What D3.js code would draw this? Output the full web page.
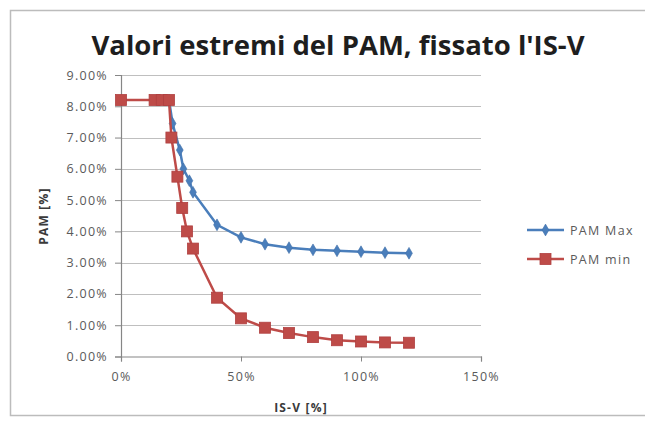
<!DOCTYPE html>
<html><head><meta charset="utf-8">
<script src="https://cdn.jsdelivr.net/npm/d3@7"></script>
<style>body{margin:0;background:#fff;}svg{display:block;}</style>
</head><body>
<svg id="c" width="645" height="423"></svg>
<script>
const title = "Valori estremi del PAM, fissato l'IS-V";
const xLabel = "IS-V [%]";
const yLabel = "PAM [%]";
const xTicks = [0, 0.5, 1.0, 1.5];
const yTicks = [0, 0.01, 0.02, 0.03, 0.04, 0.05, 0.06, 0.07, 0.08, 0.09];
const maxX = [0.20, 0.215, 0.245, 0.26, 0.285, 0.30, 0.40, 0.50, 0.60, 0.70, 0.80, 0.90, 1.00, 1.10, 1.20];
const maxY = [0.082, 0.0745, 0.066, 0.060, 0.0562, 0.0525, 0.0421, 0.0381, 0.0359, 0.0348, 0.0341, 0.0338, 0.0335, 0.0332, 0.0330];
const minX = [0, 0.14, 0.17, 0.20, 0.21, 0.235, 0.255, 0.275, 0.30, 0.40, 0.50, 0.60, 0.70, 0.80, 0.90, 1.00, 1.10, 1.20];
const minY = [0.082, 0.082, 0.082, 0.082, 0.070, 0.0575, 0.0475, 0.040, 0.0345, 0.0188, 0.0122, 0.0092, 0.0075, 0.0062, 0.0052, 0.0048, 0.0045, 0.0044];
const seriesNames = ["PAM Max", "PAM min"];
const colors = ["#4a7ebb", "#be4b48"];

const FONT = "Open Sans, sans-serif";
const svg = d3.select("#c");
svg.append("rect").attr("x", 10.5).attr("y", 10.5).attr("width", 640).attr("height", 405)
  .attr("fill", "#fff").attr("stroke", "#bcbcbc").attr("stroke-width", 1.5);

const x = d3.scaleLinear().domain([0, 1.5]).range([121, 481]);
const y = d3.scaleLinear().domain([0, 0.09]).range([356.5, 75]);

// gridlines
svg.append("g").selectAll("line").data(yTicks.slice(1)).join("line")
  .attr("x1", x(0)).attr("x2", x(1.5)).attr("y1", d => Math.round(y(d)) + 0.5).attr("y2", d => Math.round(y(d)) + 0.5)
  .attr("stroke", "#bfbfbf").attr("stroke-width", 1.2);

const yAxis = svg.append("g").attr("transform", `translate(${x(0)},0)`)
  .call(d3.axisLeft(y).tickValues(yTicks).tickFormat(d3.format(".2%")).tickSize(6).tickPadding(7));
const xAxis = svg.append("g").attr("transform", `translate(0,${y(0)})`)
  .call(d3.axisBottom(x).tickValues(xTicks).tickFormat(d3.format(".0%")).tickSize(5).tickPadding(11));
[yAxis, xAxis].forEach(a => {
  a.select(".domain").attr("stroke", "#868686").attr("stroke-width", 1.2);
  a.selectAll(".tick line").attr("stroke", "#868686");
  a.selectAll("text").attr("fill", "#5a5a5a").style("font-family", FONT).style("font-size", "12.5px")
    .style("letter-spacing", "1.3px");
});

svg.append("text").attr("x", 338).attr("y", 55).attr("text-anchor", "middle")
  .style("font-family", FONT).style("font-weight", "bold").style("font-size", "27.5px")
  .attr("fill", "#1e1e1e").text(title);
svg.append("text").attr("x", 301).attr("y", 412).attr("text-anchor", "middle")
  .style("font-family", FONT).style("font-weight", "bold").style("font-size", "12px").style("letter-spacing", "1.2px")
  .attr("fill", "#3a3a3a").text(xLabel);
svg.append("text").attr("transform", "translate(48,216) rotate(-90)").attr("text-anchor", "middle")
  .style("font-family", FONT).style("font-weight", "bold").style("font-size", "12px").style("letter-spacing", "1.2px")
  .attr("fill", "#3a3a3a").text(yLabel);

const line = d3.line().x(d => x(d[0])).y(d => y(d[1]));
const maxData = maxX.map((v, i) => [v, maxY[i]]);
const minData = minX.map((v, i) => [v, minY[i]]);

const sq = 11;
function drawSquares(g, data) {
  g.selectAll("rect").data(data).join("rect")
    .attr("x", d => x(d[0]) - sq / 2).attr("y", d => y(d[1]) - sq / 2)
    .attr("width", sq).attr("height", sq).attr("fill", colors[1]).attr("stroke", "#b04040").attr("stroke-width", 0.8);
}
const diamond = d3.symbol().type(d3.symbolDiamond).size(40);
function drawDiamonds(g, data) {
  g.selectAll("path").data(data).join("path")
    .attr("transform", d => `translate(${x(d[0])},${y(d[1])})`)
    .attr("d", diamond).attr("fill", colors[0]).attr("stroke", "#3f6fa8").attr("stroke-width", 0.6);
}
svg.append("path").datum(maxData).attr("d", line).attr("fill", "none").attr("stroke", colors[0]).attr("stroke-width", 2.5);
drawDiamonds(svg.append("g"), maxData);
svg.append("path").datum(minData).attr("d", line).attr("fill", "none").attr("stroke", colors[1]).attr("stroke-width", 2.5);
drawSquares(svg.append("g"), minData);

// legend
const leg = svg.append("g");
const ly = [230, 259];
seriesNames.forEach((n, i) => {
  leg.append("line").attr("x1", 527).attr("x2", 564).attr("y1", ly[i]).attr("y2", ly[i])
    .attr("stroke", colors[i]).attr("stroke-width", 2.5);
  leg.append("text").attr("x", 570).attr("y", ly[i] + 4.5).style("font-family", FONT)
    .style("font-size", "12.5px").style("letter-spacing", "1.3px").attr("fill", "#5a5a5a").text(n);
});
drawDiamonds(leg.append("g"), [[x.invert(545.5), y.invert(ly[0])]]);
drawSquares(leg.append("g"), [[x.invert(545.5), y.invert(ly[1])]]);
</script>
</body></html>
